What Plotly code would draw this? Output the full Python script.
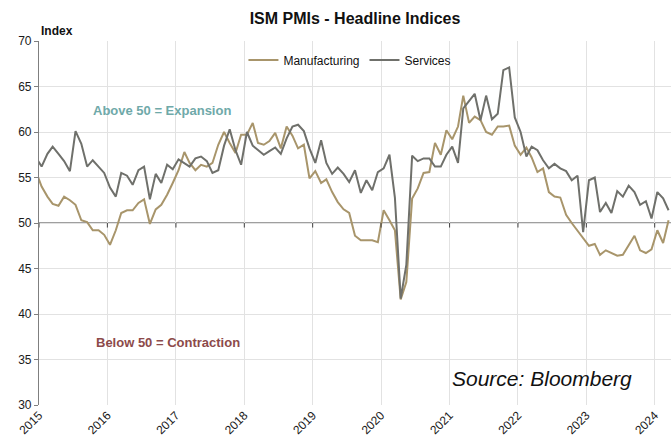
import pandas as pd
import plotly.graph_objects as go

# Monthly observations, Dec 2014 .. Mar 2024 (plotted mid-month)
months = pd.date_range("2014-12-01", "2024-03-01", freq="MS") + pd.Timedelta(days=14)

manufacturing = [
    55.7,
    54.0, 52.9, 52.1, 51.9, 52.9, 52.5, 52.0, 50.3, 50.1, 49.2, 49.2, 48.7,   # 2015
    47.6, 49.2, 51.1, 51.4, 51.4, 52.2, 52.6, 49.9, 51.5, 52.0, 53.1, 54.4,   # 2016
    55.8, 57.8, 56.6, 55.8, 56.4, 56.2, 56.6, 58.6, 60.0, 58.8, 57.7, 59.7,   # 2017
    59.7, 61.0, 58.8, 58.6, 59.0, 59.9, 58.2, 60.6, 59.6, 58.2, 58.6, 54.9,   # 2018
    55.7, 54.4, 54.8, 53.4, 52.3, 51.5, 51.1, 48.6, 48.1, 48.1, 48.1, 47.9,   # 2019
    51.4, 50.3, 49.2, 41.6, 43.5, 52.7, 53.8, 55.5, 55.6, 58.8, 57.5, 60.2,   # 2020
    59.2, 60.6, 64.0, 61.0, 61.7, 61.3, 60.0, 59.7, 60.6, 60.6, 60.7, 58.5,   # 2021
    57.5, 58.3, 57.2, 55.6, 56.0, 53.4, 52.9, 52.8, 50.9, 50.0, 49.2, 48.4,   # 2022
    47.5, 47.7, 46.5, 47.0, 46.7, 46.4, 46.5, 47.6, 48.6, 47.0, 46.7, 47.1,   # 2023
    49.2, 47.8, 50.3,                                                         # 2024
]

services = [
    57.2,
    56.2, 57.6, 58.4, 57.6, 56.8, 55.7, 60.1, 58.7, 56.2, 56.9, 56.2, 55.5,   # 2015
    53.9, 52.9, 55.5, 55.2, 54.2, 55.8, 56.2, 52.6, 55.4, 54.4, 56.4, 55.9,   # 2016
    57.0, 56.6, 56.2, 57.1, 57.3, 56.8, 55.5, 55.8, 58.5, 60.3, 58.0, 56.4,   # 2017
    60.0, 58.5, 58.0, 57.5, 57.9, 58.3, 57.6, 59.3, 60.6, 60.8, 60.1, 58.2,   # 2018
    56.6, 59.1, 56.6, 55.4, 56.1, 55.4, 54.5, 55.8, 53.3, 54.7, 53.6, 55.6,   # 2019
    56.0, 57.5, 52.8, 41.7, 45.4, 57.4, 56.8, 57.1, 57.1, 56.2, 56.2, 57.5,   # 2020
    58.4, 56.6, 62.6, 63.4, 64.2, 61.3, 64.0, 61.4, 62.0, 66.8, 67.1, 61.6,   # 2021
    60.0, 57.3, 58.4, 58.0, 56.9, 56.0, 56.5, 56.0, 55.7, 54.7, 55.2, 49.0,   # 2022
    54.7, 55.0, 51.2, 52.2, 51.1, 53.5, 52.9, 54.1, 53.4, 52.0, 52.4, 50.5,   # 2023
    53.4, 52.7, 51.4,                                                         # 2024
]

years = [2015, 2016, 2017, 2018, 2019, 2020, 2021, 2022, 2023, 2024]
year_ticks = [f"{y}-01-01" for y in years]
year_labels = [str(y) for y in years]
y_ticks = [30, 35, 40, 45, 50, 55, 60, 65, 70]

FONT = "Liberation Sans, Arial, sans-serif"
MAN_COL = "#A8956B"
SER_COL = "#6F706B"
AXIS_COL = "#7F7F7F"
GRID_COL = "#E2E2E2"

W, H = 671, 446

fig = go.Figure()
fig.add_trace(go.Scatter(x=months, y=manufacturing, name="Manufacturing", mode="lines",
                         line=dict(color=MAN_COL, width=2)))
fig.add_trace(go.Scatter(x=months, y=services, name="Services", mode="lines",
                         line=dict(color=SER_COL, width=2)))

# 50 line acting as the category axis, with year tick marks
fig.add_shape(type="line", xref="paper", yref="y", x0=0, x1=1, y0=50, y1=50,
              line=dict(color=AXIS_COL, width=1.5), layer="below")
for t in year_ticks:
    fig.add_shape(type="line", xref="x", yref="y", x0=t, x1=t, y0=50, y1=49.5,
                  line=dict(color="#404040", width=1))

fig.update_layout(
    width=W, height=H,
    margin=dict(l=39, r=0, t=41, b=41, autoexpand=False),
    paper_bgcolor="white", plot_bgcolor="white",
    font=dict(family=FONT, size=12, color="#1a1a1a"),
    title=dict(text="<b>ISM PMIs - Headline Indices</b>", x=0.5, xref="paper", xanchor="center",
               y=1 - 18 / H, yref="container", yanchor="middle",
               font=dict(family=FONT, size=16, color="#111")),
    showlegend=True,
    legend=dict(orientation="h", x=0.492, xanchor="center", y=0.948, yanchor="middle",
                bgcolor="rgba(0,0,0,0)", font=dict(family=FONT, size=12, color="#111"),
                itemwidth=30, tracegroupgap=0),
    xaxis=dict(type="date", range=["2015-01-01", "2024-03-28"],
               tickmode="array", tickvals=year_ticks, ticktext=year_labels,
               tickangle=-45, showgrid=True, gridcolor=GRID_COL, gridwidth=1,
               showline=False, ticks="", zeroline=False, automargin=False,
               tickfont=dict(family=FONT, size=12, color="#1a1a1a")),
    yaxis=dict(range=[30, 70], tickmode="array", tickvals=y_ticks,
               showgrid=True, gridcolor=GRID_COL, gridwidth=1,
               showline=True, linecolor=AXIS_COL, linewidth=1.2,
               ticks="outside", ticklen=4, tickcolor=AXIS_COL, zeroline=False,
               automargin=False,
               tickfont=dict(family=FONT, size=12, color="#1a1a1a")),
    annotations=[
        dict(text="<b>Index</b>", xref="paper", yref="paper", x=0, y=1, xanchor="left",
             yanchor="bottom", yshift=1, showarrow=False,
             font=dict(family=FONT, size=12, color="#111")),
        dict(text="<b>Above 50 = Expansion</b>", xref="paper", yref="paper",
             x=0.195, y=0.81, xanchor="center", yanchor="middle", showarrow=False,
             font=dict(family=FONT, size=13, color="#6FA9A9")),
        dict(text="<b>Below 50 = Contraction</b>", xref="paper", yref="paper",
             x=0.204, y=0.173, xanchor="center", yanchor="middle", showarrow=False,
             font=dict(family=FONT, size=13, color="#8C4A4A")),
        dict(text="<i>Source: Bloomberg</i>", xref="paper", yref="paper",
             x=0.796, y=0.074, xanchor="center", yanchor="middle", showarrow=False,
             font=dict(family=FONT, size=21, color="#111")),
    ],
)

# remove the default page margin so the 671x446 figure fills the window exactly
fig.write_html(
    "out.html",
    config={"displayModeBar": False},
    post_script=(
        "document.body.style.margin='0';"
        "document.body.style.overflow='hidden';"
        "document.documentElement.style.overflow='hidden';"
    ),
)
